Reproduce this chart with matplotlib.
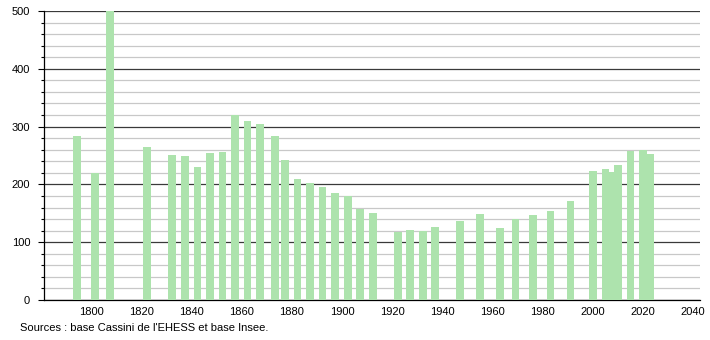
import matplotlib
matplotlib.use('Agg')
import matplotlib.pyplot as plt
from matplotlib.ticker import MultipleLocator

plt.rcParams['font.family'] = ['Liberation Sans', 'DejaVu Sans']

# Recensements
annees = [1793, 1800, 1806, 1821, 1831, 1836, 1841, 1846, 1851, 1856,
          1861, 1866, 1872, 1876, 1881, 1886, 1891, 1896, 1901, 1906,
          1911, 1921, 1926, 1931, 1936, 1946, 1954, 1962, 1968, 1975,
          1982, 1990, 1999, 2004, 2006, 2009, 2014, 2019, 2022]
population = [284, 219, 500, 264, 251, 249, 230, 255, 256, 320,
              310, 305, 284, 243, 210, 202, 195, 185, 180, 158,
              150, 118, 121, 120, 126, 137, 149, 124, 141, 147,
              154, 171, 223, 227, 221, 234, 258, 260, 253]
graduations_x = [1800, 1820, 1840, 1860, 1880, 1900, 1920, 1940, 1960, 1980, 2000, 2020, 2040]
source = "Sources : base Cassini de l'EHESS et base Insee."

fig = plt.figure(figsize=(7.1, 3.4), dpi=100)
ax = fig.add_axes([0.062, 0.1176, 0.924, 0.85])

ax.bar([a - 0.3 for a in annees], population, width=3.1, align='edge',
       color='#ade3ad', linewidth=0, zorder=3)

ax.set_xlim(1781, 2043)
ax.set_ylim(0, 500)
ax.set_xticks(graduations_x)
ax.yaxis.set_major_locator(MultipleLocator(100))
ax.yaxis.set_minor_locator(MultipleLocator(20))

# Grille : gris clair tous les 20, foncé tous les 100
ax.grid(axis='y', which='minor', color='#c8c8c8', linewidth=0.9, zorder=0)
ax.grid(axis='y', which='major', color='#3a3a3a', linewidth=0.9, zorder=1)

for s in ['top', 'right']:
    ax.spines[s].set_visible(False)
ax.spines['left'].set_linewidth(0.9)
ax.spines['bottom'].set_linewidth(0.9)

ax.tick_params(axis='x', length=0, pad=5, labelsize=8)
ax.tick_params(axis='y', which='major', length=4, width=0.8, pad=6, labelsize=8)
ax.tick_params(axis='y', which='minor', length=2, width=0.8)

fig.text(20 / 710, 1 - 328 / 340, source, fontsize=8, va='center', ha='left')

fig.savefig('out.png', dpi=100)
